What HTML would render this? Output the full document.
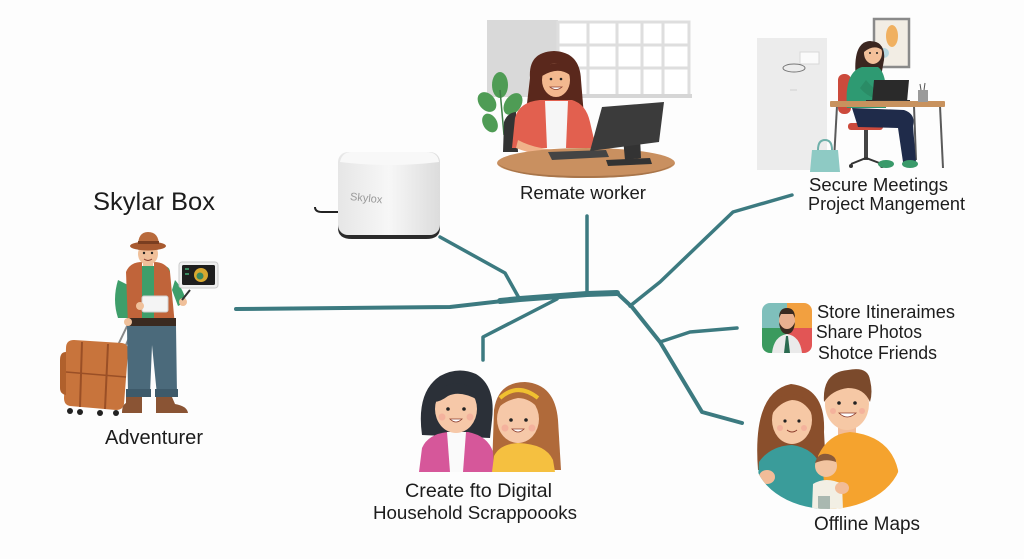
<!DOCTYPE html>
<html>
<head>
<meta charset="utf-8">
<style>
html,body{margin:0;padding:0;background:#fdfdfd;}
svg{display:block;}
text{font-family:"Liberation Sans",Arial,sans-serif;fill:#1c1c1c;}
</style>
</head>
<body>
<svg width="1024" height="559" viewBox="0 0 1024 559" xmlns="http://www.w3.org/2000/svg">
<defs>
  <linearGradient id="boxg" x1="0" y1="0" x2="1" y2="0">
    <stop offset="0" stop-color="#e6e6e6"/>
    <stop offset="0.5" stop-color="#f7f7f7"/>
    <stop offset="1" stop-color="#dcdcdc"/>
  </linearGradient>
  <clipPath id="iconclip"><rect x="762" y="303" width="50" height="50" rx="8"/></clipPath>
  <clipPath id="famclip">
    <rect x="740" y="350" width="175" height="100"/>
    <ellipse cx="828" cy="455" rx="74" ry="54"/>
  </clipPath>
  <clipPath id="fam2clip"><rect x="400" y="350" width="180" height="122"/></clipPath>
</defs>
<rect width="1024" height="559" fill="#fdfdfd"/>

<!-- ===== Connector lines ===== -->
<g fill="none" stroke="#3c7a80" stroke-linecap="round" stroke-linejoin="round">
  <polyline points="236,309 450,307 520,299 587,294 617,293" stroke-width="4"/>
  <polyline points="500,301 520,299 587,294 617,293" stroke-width="6"/>
  <polyline points="440,237 505,273 519,298" stroke-width="3.5"/>
  <polyline points="587,216 587,294" stroke-width="3.5"/>
  <polyline points="557,299 483,337 483,360" stroke-width="3.5"/>
  <polyline points="617,293 632,307 660,342 702,412 742,423" stroke-width="4"/>
  <polyline points="630,306 660,282 733,212 792,195" stroke-width="3.5"/>
  <polyline points="660,342 690,332 737,328" stroke-width="3.5"/>
</g>

<!-- ===== Title + Adventurer ===== -->
<text x="93" y="210" font-size="25" textLength="122" lengthAdjust="spacingAndGlyphs">Skylar Box</text>

<!-- suitcase -->
<g>
  <line x1="118" y1="345" x2="131" y2="318" stroke="#888" stroke-width="2"/>
  <line x1="125" y1="347" x2="137" y2="320" stroke="#888" stroke-width="2"/>
  <path d="M66,348 Q66,340 74,340 L122,343 Q129,344 128,352 L124,404 Q123,410 116,410 L70,406 Q64,405 64,398 Z" fill="#c8743c"/>
  <path d="M60,360 Q60,352 66,352 L66,395 Q60,394 60,388 Z" fill="#b0602c"/>
  <line x1="82" y1="342" x2="80" y2="407" stroke="#9a4f26" stroke-width="2"/>
  <line x1="108" y1="344" x2="105" y2="409" stroke="#9a4f26" stroke-width="2"/>
  <line x1="66" y1="372" x2="126" y2="377" stroke="#9a4f26" stroke-width="1.5"/>
  <circle cx="70" cy="411" r="3" fill="#222"/>
  <circle cx="80" cy="412" r="3" fill="#222"/>
  <circle cx="100" cy="413" r="3" fill="#222"/>
  <circle cx="116" cy="413" r="3" fill="#222"/>
</g>
<!-- person -->
<g>
  <!-- legs -->
  <path d="M127,326 L176,326 L177,395 L157,395 L152,345 L150,395 L128,395 Z" fill="#4b6a7b"/>
  <rect x="126" y="389" width="25" height="8" fill="#3e5a6a"/>
  <rect x="155" y="389" width="23" height="8" fill="#3e5a6a"/>
  <path d="M126,397 L142,397 L142,413 L122,413 Q122,405 126,403 Z" fill="#8a5434"/>
  <path d="M156,397 L172,397 L175,404 Q187,406 188,413 L156,413 Z" fill="#8a5434"/>
  <!-- arms -->
  <path d="M118,280 Q112,300 118,318 L128,318 L128,285 Z" fill="#3e9e6a"/>
  <path d="M175,280 Q184,290 186,302 L178,306 L172,290 Z" fill="#3e9e6a"/>
  <!-- torso shirt -->
  <rect x="130" y="266" width="40" height="58" rx="6" fill="#3e9e6a"/>
  <!-- vest -->
  <path d="M126,272 Q130,262 142,262 L142,326 L128,326 Z" fill="#c0643a"/>
  <path d="M170,272 Q166,262 154,262 L154,326 L175,326 Z" fill="#c0643a"/>
  <rect x="127" y="318" width="49" height="8" fill="#3a2a20"/>
  <!-- box in hands -->
  <rect x="142" y="296" width="26" height="16" rx="2" fill="#f4f4f4" stroke="#cfcfcf"/>
  <circle cx="140" cy="306" r="4" fill="#f0c09a"/>
  <circle cx="183" cy="302" r="4" fill="#f0c09a"/>
  <line x1="182" y1="300" x2="190" y2="290" stroke="#333" stroke-width="2"/>
  <!-- hand left low by suitcase -->
  <circle cx="128" cy="322" r="4" fill="#f0c09a"/>
  <!-- head -->
  <rect x="143" y="258" width="10" height="8" fill="#f0c09a"/>
  <ellipse cx="148" cy="254" rx="10" ry="11" fill="#f0c09a"/>
  <path d="M138,250 Q139,243 148,243 Q157,243 158,250 L156,248 L140,248 Z" fill="#3a2618"/>
  <circle cx="144" cy="253" r="1.2" fill="#222"/>
  <circle cx="152" cy="253" r="1.2" fill="#222"/>
  <path d="M144,259 Q148,262 152,259" stroke="#8a3a2a" fill="none" stroke-width="1"/>
  <!-- hat -->
  <path d="M138,246 Q138,232 148,232 Q159,232 159,246 Z" fill="#b86a3c"/>
  <ellipse cx="148" cy="246" rx="18" ry="4.5" fill="#a85a30"/>
  <rect x="138" y="241" width="21" height="3" fill="#7a3e20"/>
</g>
<!-- tablet -->
<g>
  <rect x="179" y="262" width="39" height="26" rx="3" fill="#eee" stroke="#ccc"/>
  <rect x="182" y="265" width="33" height="20" rx="1.5" fill="#1e1e1e"/>
  <circle cx="201" cy="275" r="7" fill="#d8a830"/>
  <circle cx="200" cy="276" r="3.5" fill="#3a8a60"/>
  <rect x="185" y="268" width="4" height="2" fill="#3a8a60"/>
  <rect x="185" y="273" width="4" height="2" fill="#3a8a60"/>
</g>
<text x="105" y="444" font-size="20" textLength="98" lengthAdjust="spacingAndGlyphs">Adventurer</text>

<!-- ===== Skylox box ===== -->
<g>
  <path d="M338,212 L322,212 Q315,212 315,207" stroke="#222" stroke-width="2" fill="none"/>
  <path d="M338,220 L338,228 Q338,239 352,239 L426,239 Q440,239 440,228 L440,220 Z" fill="#2a2a2a"/>
  <rect x="338" y="152" width="102" height="83" rx="10" fill="url(#boxg)"/>
  <path d="M340,162 Q342,152 352,152 L426,152 Q438,152 439,162 Q389,168 340,162 Z" fill="#f8f8f8"/>
  <text x="350" y="201" font-size="11" style="fill:#999" transform="rotate(6 360 198)">Skylox</text>
</g>

<!-- ===== Remote worker ===== -->
<g>
  <rect x="487" y="20" width="71" height="77" fill="#d9d9d9"/>
  <rect x="558" y="22" width="131" height="74" fill="#ffffff" stroke="#dedede" stroke-width="3"/>
  <g stroke="#dedede" stroke-width="3">
    <line x1="588" y1="22" x2="588" y2="96"/>
    <line x1="617" y1="22" x2="617" y2="96"/>
    <line x1="642" y1="22" x2="642" y2="96"/>
    <line x1="663" y1="22" x2="663" y2="96"/>
    <line x1="558" y1="45" x2="689" y2="45"/>
    <line x1="558" y1="68" x2="689" y2="68"/>
  </g>
  <rect x="555" y="94" width="137" height="4" fill="#d6d6d6"/>
  <!-- plant -->
  <g fill="#4f9c55">
    <ellipse cx="500" cy="85" rx="8" ry="13"/>
    <ellipse cx="487" cy="102" rx="8" ry="11" transform="rotate(-40 487 102)"/>
    <ellipse cx="513" cy="104" rx="8" ry="12" transform="rotate(35 513 104)"/>
    <ellipse cx="490" cy="123" rx="7" ry="10" transform="rotate(-30 490 123)"/>
  </g>
  <line x1="500" y1="90" x2="504" y2="135" stroke="#3d7d45" stroke-width="1.5"/>
  <!-- chair -->
  <path d="M503,152 L504,122 Q507,113 516,112 L518,152 Z" fill="#333"/>
  <!-- hair -->
  <path d="M530,78 Q528,52 554,51 Q580,52 581,80 L584,116 Q572,120 563,110 L545,108 Q533,116 526,112 Z" fill="#5a281c"/>
  <!-- body -->
  <path d="M512,148 L515,118 Q519,102 540,100 L572,100 Q586,104 590,122 L596,148 Z" fill="#e2604f"/>
  <path d="M545,101 L568,101 L566,148 L547,148 Z" fill="#f6f6f6"/>
  <path d="M518,140 Q540,152 578,150 L580,156 Q540,158 516,148 Z" fill="#f0b28a"/>
  <!-- face -->
  <ellipse cx="556" cy="80" rx="14" ry="17" fill="#f3b88f"/>
  <path d="M542,72 Q548,60 566,64 Q570,70 570,75 Q558,66 542,76 Z" fill="#5a281c"/>
  <circle cx="551" cy="79" r="1.3" fill="#222"/>
  <circle cx="561" cy="79" r="1.3" fill="#222"/>
  <path d="M550,87 Q556,92 562,87 Z" fill="#fff" stroke="#8a3a2a" stroke-width="0.8"/>
  <!-- desk -->
  <ellipse cx="586" cy="163" rx="89" ry="15" fill="#c99060"/>
  <path d="M497,163 Q510,178 586,178 Q662,178 675,163 Q660,176 586,176 Q512,176 497,163 Z" fill="#a8754a"/>
  <!-- keyboard -->
  <polygon points="548,152 606,150 609,157 552,160" fill="#444"/>
  <!-- monitor -->
  <polygon points="623,138 640,137 641,158 625,160" fill="#333"/>
  <polygon points="606,160 650,158 652,164 608,166" fill="#333"/>
  <polygon points="602,107 664,102 659,142 590,151" fill="#3b3b3b"/>
</g>
<text x="520" y="199" font-size="18" textLength="126" lengthAdjust="spacingAndGlyphs">Remate worker</text>

<!-- ===== Secure meetings ===== -->
<g>
  <rect x="757" y="38" width="70" height="132" fill="#ececec"/>
  <rect x="800" y="52" width="19" height="12" fill="#fafafa" stroke="#d8d8d8"/>
  <ellipse cx="794" cy="68" rx="11" ry="4" fill="none" stroke="#777" stroke-width="1"/>
  <line x1="790" y1="90" x2="797" y2="90" stroke="#d0d0d0"/>
  <!-- picture -->
  <rect x="874" y="19" width="35" height="48" fill="#f2ede4" stroke="#8a8a8a" stroke-width="2.5"/>
  <ellipse cx="892" cy="36" rx="6" ry="11" fill="#f0b060"/>
  <ellipse cx="884" cy="53" rx="5" ry="5" fill="#b8d8e0"/>
  <!-- desk -->
  <g stroke="#5a5a5a" stroke-width="2">
    <line x1="837" y1="106" x2="834" y2="160"/>
    <line x1="914" y1="106" x2="916" y2="160"/>
    <line x1="940" y1="106" x2="943" y2="168"/>
  </g>
  <!-- chair -->
  <rect x="838" y="74" width="13" height="40" rx="6" fill="#cc4a3c"/>
  <rect x="848" y="123" width="35" height="7" rx="3" fill="#cc4a3c"/>
  <rect x="864" y="130" width="4" height="30" fill="#444"/>
  <path d="M851,164 L866,158 L882,164" stroke="#333" stroke-width="2" fill="none"/>
  <circle cx="851" cy="166" r="2" fill="#333"/>
  <circle cx="882" cy="166" r="2" fill="#333"/>
  <!-- pants -->
  <path d="M852,108 L904,110 Q916,114 913,126 L916,162 L903,162 L898,128 L858,127 Z" fill="#1f2b4a"/>
  <ellipse cx="886" cy="164" rx="8" ry="4" fill="#3a9a6a"/>
  <ellipse cx="910" cy="164" rx="8" ry="4" fill="#3a9a6a"/>
  <!-- hair back -->
  <path d="M856,80 Q852,42 870,41 Q886,42 884,60 L880,82 Z" fill="#3b2620"/>
  <!-- sweater -->
  <path d="M847,108 Q844,72 862,67 L878,67 Q888,74 886,108 Z" fill="#2e9a72"/>
  <path d="M866,80 Q876,92 886,96 L884,101 Q868,98 860,88 Z" fill="#2a8c66"/>
  <!-- face -->
  <ellipse cx="873" cy="53" rx="9" ry="11" fill="#f3c09a"/>
  <path d="M864,50 Q866,40 876,42 Q882,44 882,50 Q874,44 864,52 Z" fill="#3b2620"/>
  <circle cx="870" cy="53" r="1" fill="#222"/>
  <circle cx="877" cy="53" r="1" fill="#222"/>
  <!-- laptop -->
  <polygon points="874,80 909,80 907,102 872,102" fill="#2a2a2a"/>
  <rect x="866" y="100" width="44" height="3" fill="#333"/>
  <!-- desk top -->
  <rect x="830" y="101" width="115" height="6" rx="1" fill="#c8925e"/>
  <rect x="918" y="90" width="10" height="12" fill="#9a9a9a"/>
  <line x1="921" y1="90" x2="920" y2="84" stroke="#555"/>
  <line x1="924" y1="90" x2="925" y2="83" stroke="#555"/>
  <!-- bag -->
  <path d="M818,150 Q818,140 825,140 Q832,140 832,150" fill="none" stroke="#6fb0aa" stroke-width="2"/>
  <path d="M812,150 L838,150 L840,172 L810,172 Z" fill="#8ecac4"/>
</g>
<text x="809" y="191" font-size="18" textLength="139" lengthAdjust="spacingAndGlyphs">Secure Meetings</text>
<text x="808" y="210" font-size="18" textLength="157" lengthAdjust="spacingAndGlyphs">Project Mangement</text>

<!-- ===== Store icon ===== -->
<g clip-path="url(#iconclip)">
  <rect x="762" y="303" width="25" height="25" fill="#7fbfbb"/>
  <rect x="787" y="303" width="25" height="25" fill="#f2a040"/>
  <rect x="762" y="328" width="25" height="25" fill="#3a9a5e"/>
  <rect x="787" y="328" width="25" height="25" fill="#e25555"/>
  <path d="M772,353 Q774,336 787,334 Q800,336 802,353 Z" fill="#eaeaea"/>
  <path d="M786,336 L788,336 L790,353 L784,353 Z" fill="#2a6a50"/>
  <ellipse cx="787" cy="321" rx="8" ry="10" fill="#e8b090"/>
  <path d="M779,318 Q779,308 787,308 Q795,308 795,318 L793,314 L781,314 Z" fill="#3a2a20"/>
  <path d="M779,322 Q780,334 787,334 Q794,334 795,322 Q792,329 787,329 Q782,329 779,322 Z" fill="#3a2a20"/>
</g>
<text x="817" y="318" font-size="18" textLength="138" lengthAdjust="spacingAndGlyphs">Store Itineraimes</text>
<text x="816" y="338" font-size="18" textLength="106" lengthAdjust="spacingAndGlyphs">Share Photos</text>
<text x="818" y="359" font-size="18" textLength="119" lengthAdjust="spacingAndGlyphs">Shotce Friends</text>

<!-- ===== Offline maps family ===== -->
<g clip-path="url(#famclip)">
  <!-- woman hair -->
  <path d="M758,470 Q752,392 791,384 Q826,388 824,432 L826,470 Z" fill="#8a4f2c"/>
  <!-- man -->
  <rect x="838" y="424" width="18" height="14" fill="#f2bc98"/>
  <path d="M816,512 L818,456 Q828,434 850,432 Q890,436 898,470 L902,512 Z" fill="#f5a32e"/>
  <ellipse cx="847" cy="404" rx="22" ry="26" fill="#f6c8a5"/>
  <path d="M824,402 Q822,372 848,370 Q868,366 870,380 Q873,392 870,402 Q864,388 848,388 Q832,390 824,402 Z" fill="#7b4a2c"/>
  <circle cx="839" cy="403" r="1.8" fill="#222"/>
  <circle cx="855" cy="403" r="1.8" fill="#222"/>
  <path d="M839,413 Q847,421 856,413 Z" fill="#fff" stroke="#8a3a2a" stroke-width="0.8"/>
  <circle cx="833" cy="411" r="3" fill="#f3a898" opacity="0.7"/>
  <circle cx="862" cy="411" r="3" fill="#f3a898" opacity="0.7"/>
  <!-- woman -->
  <path d="M756,512 L759,462 Q770,446 792,445 Q815,448 823,470 L826,512 Z" fill="#3a9c9a"/>
  <ellipse cx="792" cy="420" rx="20" ry="24" fill="#f6c8a5"/>
  <path d="M772,414 Q774,394 792,394 Q810,396 812,414 Q804,400 792,400 Q780,402 772,414 Z" fill="#8a4f2c"/>
  <circle cx="785" cy="421" r="1.6" fill="#222"/>
  <circle cx="799" cy="421" r="1.6" fill="#222"/>
  <path d="M787,430 Q792,434 797,430" stroke="#8a3a2a" fill="none" stroke-width="1"/>
  <circle cx="780" cy="428" r="3" fill="#f3a898" opacity="0.7"/>
  <circle cx="804" cy="428" r="3" fill="#f3a898" opacity="0.7"/>
  <ellipse cx="767" cy="477" rx="8" ry="7" fill="#f2bc98"/>
  <!-- baby -->
  <path d="M812,510 L813,484 Q826,476 842,484 L843,510 Z" fill="#f2efe4"/>
  <rect x="818" y="496" width="12" height="14" fill="#a9b8b0"/>
  <circle cx="826" cy="466" r="11" fill="#f2c4a0"/>
  <path d="M815,463 Q818,452 828,454 Q836,456 836,462 Q826,458 815,463 Z" fill="#8a5a3a"/>
  <ellipse cx="842" cy="488" rx="7" ry="6" fill="#f2bc98"/>
</g>
<text x="814" y="530" font-size="19" textLength="106" lengthAdjust="spacingAndGlyphs">Offline Maps</text>

<!-- ===== Scrapbook family ===== -->
<g clip-path="url(#fam2clip)">
  <!-- girl hair -->
  <path d="M492,470 L494,410 Q498,382 525,382 Q555,384 558,420 L561,470 Z" fill="#b06a3a"/>
  <!-- woman hair -->
  <path d="M422,435 Q416,392 440,376 Q458,366 476,374 Q496,386 492,420 L490,438 Z" fill="#2b3038"/>
  <!-- woman body -->
  <path d="M419,472 L422,448 Q428,434 448,432 L468,432 Q488,436 493,452 L494,472 Z" fill="#d6579a"/>
  <path d="M447,432 L466,432 L463,472 L450,472 Z" fill="#fafafa"/>
  <ellipse cx="456" cy="409" rx="21" ry="24" fill="#f6c8a8"/>
  <path d="M434,402 Q438,384 458,383 Q474,385 478,400 Q460,390 448,396 Q440,402 434,402 Z" fill="#2b3038"/>
  <circle cx="448" cy="409" r="1.8" fill="#222"/>
  <circle cx="464" cy="409" r="1.8" fill="#222"/>
  <path d="M450,419 Q456,425 462,419 Z" fill="#fff" stroke="#8a3a2a" stroke-width="0.8"/>
  <circle cx="442" cy="417" r="3.5" fill="#f3a898" opacity="0.7"/>
  <circle cx="470" cy="417" r="3.5" fill="#f3a898" opacity="0.7"/>
  <!-- girl body -->
  <path d="M492,472 L494,456 Q500,444 518,443 Q546,444 553,460 L555,472 Z" fill="#f5c040"/>
  <ellipse cx="518" cy="419" rx="21" ry="24" fill="#f6c8a8"/>
  <path d="M498,408 Q500,392 518,392 Q536,393 540,410 Q530,398 518,398 Q506,400 498,408 Z" fill="#b06a3a"/>
  <path d="M500,398 Q518,382 538,398" stroke="#f0c030" stroke-width="4" fill="none"/>
  <circle cx="511" cy="420" r="1.8" fill="#222"/>
  <circle cx="526" cy="420" r="1.8" fill="#222"/>
  <path d="M512,429 Q518,435 524,429 Z" fill="#fff" stroke="#8a3a2a" stroke-width="0.8"/>
  <circle cx="505" cy="428" r="3.5" fill="#f3a898" opacity="0.7"/>
  <circle cx="532" cy="428" r="3.5" fill="#f3a898" opacity="0.7"/>
</g>
<text x="405" y="497" font-size="19.5" textLength="147" lengthAdjust="spacingAndGlyphs">Create fto Digital</text>
<text x="373" y="519" font-size="18.5" textLength="204" lengthAdjust="spacingAndGlyphs">Household Scrappoooks</text>
</svg>
</body>
</html>
